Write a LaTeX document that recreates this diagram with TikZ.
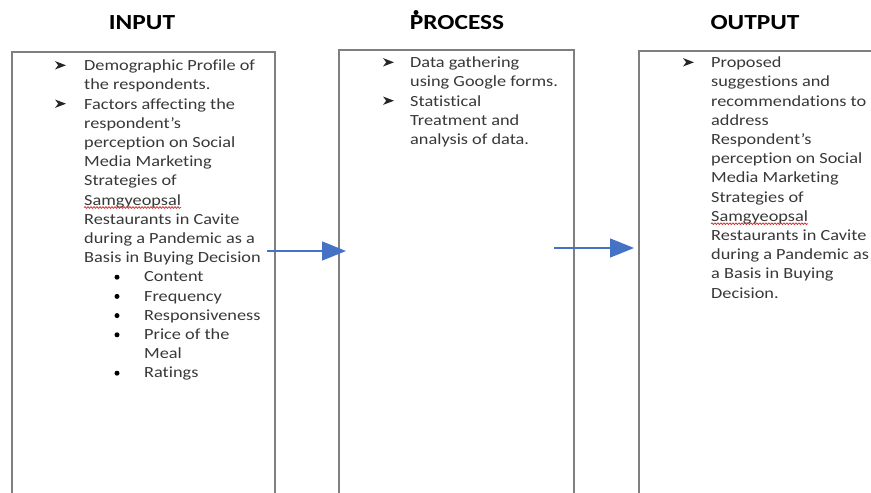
\documentclass[tikz,border=0pt]{standalone}
\usepackage{fontspec}
\setmainfont{Carlito}[FakeStretch=1.18,Ligatures=NoCommon]
\usetikzlibrary{arrows.meta,decorations.pathmorphing}
\definecolor{boxgray}{HTML}{7F7F7F}
\definecolor{txtgray}{HTML}{383838}
\definecolor{arrblue}{HTML}{4472C4}
\definecolor{spellred}{HTML}{E03030}
\newcommand\firststrut{\rule{0pt}{12pt}}
\begin{document}
\begin{tikzpicture}[x=1pt,y=-1pt,
  box/.style={draw=boxgray,line width=1.6pt,anchor=north west,inner sep=0pt},
  title/.style={font=\fontsize{21.5}{24}\selectfont\bfseries,text=black,anchor=base,inner sep=0pt},
  body/.style={font=\fontsize{15.5}{19.2}\selectfont,text=txtgray,align=left,anchor=north west,inner sep=0pt},
  dotbullet/.style={circle,fill=black,inner sep=0pt,minimum size=5pt},
  flow/.style={draw=arrblue,line width=1.5pt,-{Triangle[length=24pt,width=19pt]}},
  spell/.style={draw=spellred,line width=0.8pt,decorate,decoration={snake,amplitude=0.8pt,segment length=3pt}},
  arrowmark/.pic={\fill[black!85] (0,-4.2) -- (11,0) -- (0,4.2) -- (3.2,0) -- cycle;}
]
\useasboundingbox (0,0) rectangle (871,493);
% boxes
\node[box,minimum width=263pt,minimum height=480pt] (inbox) at (11,51) {};
\node[box,minimum width=235pt,minimum height=480pt] (prbox) at (338,49) {};
\node[box,minimum width=300pt,minimum height=480pt] (outbox) at (638,50) {};
% titles
\node[title] (tin) at (142,29) {INPUT};
\node[title] (tpr) at (457,29) {PROCESS};
\node[title] (tout) at (755,29) {OUTPUT};
\node[circle,fill=black,inner sep=0pt,minimum size=5pt] (pdot) at (416,12.5) {};
% input text
\pic at (55,65.3) {arrowmark};
\pic at (55,103.7) {arrowmark};
\node[body] (in1) at (84,58.5) {\firststrut Demographic Profile of\\the respondents.\\Factors affecting the\\respondent’s\\perception on Social\\Media Marketing\\Strategies of\\Samgyeopsal\\Restaurants in Cavite\\during a Pandemic as a\\Basis in Buying Decision};
\node[body] (in2) at (144,269.7) {\firststrut Content\\Frequency\\Responsiveness\\Price of the\\Meal\\Ratings};
\node[dotbullet] (d1) at (117,277.2) {};
\node[dotbullet] (d2) at (117,296.4) {};
\node[dotbullet] (d3) at (117,315.6) {};
\node[dotbullet] (d4) at (117,334.8) {};
\node[dotbullet] (d5) at (117,373.2) {};
% process text
\pic at (383,62.3) {arrowmark};
\pic at (383,100.7) {arrowmark};
\node[body] (pr1) at (410,55.5) {\firststrut Data gathering\\using Google forms.\\Statistical\\Treatment and\\analysis of data.};
% output text
\pic at (683,62.3) {arrowmark};
\node[body] (out1) at (711,55.5) {\firststrut Proposed\\suggestions and\\recommendations to\\address\\Respondent’s\\perception on Social\\Media Marketing\\Strategies of\\Samgyeopsal\\Restaurants in Cavite\\during a Pandemic as\\a Basis in Buying\\Decision.};
% spelling marks
\coordinate (s1a) at (84,207.5);
\coordinate (s1b) at (181,207.5);
\coordinate (s2a) at (711,223.7);
\coordinate (s2b) at (808,223.7);
\draw[spell] (s1a) -- (s1b);
\draw[spell] (s2a) -- (s2b);
% arrows
\coordinate (a1s) at (267,251);
\coordinate (a1e) at (346,251);
\coordinate (a2s) at (554,248);
\coordinate (a2e) at (634,248);
\draw[flow] (a1s) -- (a1e);
\draw[flow] (a2s) -- (a2e);
\end{tikzpicture}
\end{document}
